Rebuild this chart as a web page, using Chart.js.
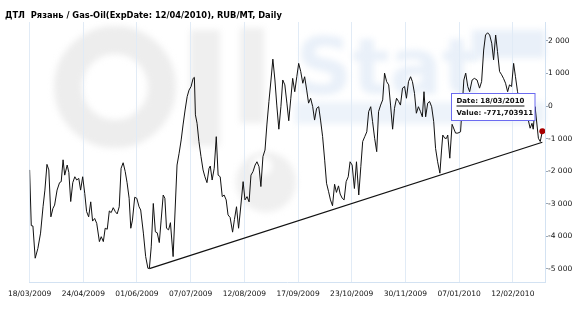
<!DOCTYPE html>
<html>
<head>
<meta charset="utf-8">
<script src="https://cdn.jsdelivr.net/npm/chart.js@4.4.0/dist/chart.umd.min.js"></script>
<style>
  html, body { margin: 0; padding: 0; background: #fff; }
</style>
</head>
<body>
<canvas id="oil-Chart" width="575" height="325"></canvas>
<script>
// торговые дни от 18/03/2009 и значения спреда (RUB/MT)
const dayIdx = [
  0, 0.8, 1.6, 2.7, 4.0, 5.3, 6.5, 7.4, 8.4, 9.3, 10.3, 11.3, 12.1, 13.3, 14.5, 15.3, 16.2, 17.0, 18.2, 19.0,
  19.9, 20.9, 21.9, 22.8, 23.8, 24.7, 25.7, 26.7, 27.6, 28.6, 29.6, 30.5, 31.5, 32.5, 33.8, 34.7, 35.7, 36.6, 37.6, 38.6,
  39.5, 40.5, 41.5, 42.4, 43.4, 44.3, 45.3, 46.3, 47.2, 48.2, 49.0, 49.8, 50.9, 51.9, 53.0, 53.8, 55.1, 56.2, 57.3, 58.0,
  58.9, 59.9, 60.9, 61.8, 62.8, 63.7, 64.7, 65.5, 66.3, 67.3, 68.2, 69.5, 71.4, 72.4, 73.4, 74.3, 75.3, 76.3, 77.2, 78.2,
  79.2, 79.8, 80.3, 81.1, 82.0, 83.0, 84.0, 84.9, 85.9, 86.9, 87.5, 88.4, 89.4, 90.4, 91.3, 92.3, 93.3, 94.2, 95.2, 96.1,
  97.1, 98.3, 99.2, 100.2, 101.2, 102.1, 103.4, 104.3, 105.3, 106.3, 107.2, 108.2, 109.2, 110.1, 111.1, 112.0, 113.0, 114.0, 114.9, 115.9,
  116.9, 117.8, 118.8, 119.7, 120.7, 121.7, 122.6, 123.6, 124.6, 125.5, 126.5, 127.4, 128.4, 129.4, 130.3, 131.3, 132.3, 133.2, 134.2, 135.1,
  136.1, 137.1, 138.0, 139.0, 140.0, 140.9, 141.9, 142.9, 143.8, 144.8, 145.7, 146.7, 147.7, 148.6, 149.6, 150.4, 151.4, 152.3, 153.3, 154.3,
  155.2, 156.2, 157.3, 158.3, 159.4, 160.4, 161.3, 162.3, 163.3, 164.2, 165.2, 166.1, 167.1, 168.1, 169.0, 170.0, 171.0, 171.9, 172.9, 173.9,
  174.8, 175.8, 176.7, 177.7, 178.7, 179.6, 180.6, 181.6, 182.5, 183.5, 184.5, 185.4, 186.4, 187.3, 188.3, 189.3, 190.2, 191.0, 191.8, 192.8,
  193.7, 194.7, 195.7, 196.6, 197.6, 198.7, 199.5, 200.1, 201.1, 201.9, 202.5, 203.5, 204.6, 206.3, 207.4, 208.7, 210.3, 211.2, 212.2, 213.1,
  214.3, 215.4, 216.7, 217.9, 218.9, 219.9, 220.8, 221.8, 222.8, 223.8, 224.7, 225.7, 226.6, 227.6, 228.6, 229.5, 230.5, 231.5, 232.4, 233.4,
  234.4, 235.3, 236.3, 238.1, 240.0, 241.4, 242.4, 243.3, 243.9, 244.8, 246.4, 247.3, 248.3
];
const values = [
  -1960, -3670, -3680, -4670, -4370, -3900, -3090, -2580, -1790, -1960, -3400, -3140, -3040, -2580, -2350, -2320, -1650, -2120, -1810, -2040,
  -2930, -2350, -2170, -2270, -2220, -2580, -2170, -2680, -3240, -3400, -2940, -3530, -3450, -3600, -4160, -4010, -4160, -3750, -3780, -3220,
  -3270, -3120, -3240, -3310, -3090, -1910, -1740, -2010, -2350, -2830, -3750, -3500, -2800, -2830, -3090, -3190, -3900, -4620, -4980, -4980,
  -4320, -2990, -3860, -3890, -4190, -3500, -2730, -2830, -3750, -3800, -3580, -4620, -1810, -1450, -1040, -580, -120, 290, 490, 600,
  850, 880, -270, -530, -1090, -1550, -1960, -2170, -2350, -1910, -1840, -2270, -1910, -940, -2120, -2170, -2780, -2730, -2880, -3340,
  -3420, -3870, -3480, -3090, -3750, -3190, -2320, -2880, -2780, -2940, -2120, -2010, -1810, -1710, -1860, -2470, -1550, -1350, -580, 140,
  800, 1440, 800, 30, -710, -20, 800, 650, 90, -450, 240, 850, 440, 900, 1310, 1060, 700, 900, 490, 90,
  240, -20, -430, -70, -20, -430, -940, -1660, -2370, -2630, -2880, -3060, -2400, -2650, -2450, -2700, -2830, -2880, -2320, -2170,
  -1710, -1810, -2530, -1710, -2730, -1860, -1090, -940, -790, -170, -20, -480, -990, -1400, -170, 30, 190, 1010, 750, 650,
  30, -710, -70, 240, 140, 30, 550, 600, 240, 750, 900, 750, 390, -220, -20, -170, -330, 440, -330, 90,
  140, -20, -480, -1300, -1710, -2060, -1350, -890, -990, -990, -890, -1600, -560, -830, -830, -790, 800, 1010, 600, 440,
  800, 850, 800, 550, 750, 1720, 2180, 2250, 2180, 1930, 1420, 2180, 1670, 1060, 960, 850, 700, 440, 650, 600,
  1310, 900, 440, -100, 150, -400, -680, -530, -710, -20, -990, -1090, -771.703911
];
// подписи оси X
const dateLabels = ["18/03/2009", "24/04/2009", "01/06/2009", "07/07/2009", "12/08/2009",
  "17/09/2009", "23/10/2009", "30/11/2009", "07/01/2010", "12/02/2010"];
const labelIdx = [0, 26, 52, 78, 104, 130, 156, 182, 208, 234];
const yTicks = [-5000, -4000, -3000, -2000, -1000, 0, 1000, 2000];
// линия тренда
const trendIdx = [58.0, 248.3];
const trendValues = [-4990, -1110];
const lastDate = "18/03/2010";

const titleText = "ДТЛ  Рязань / Gas-Oil(ExpDate: 12/04/2010), RUB/MT, Daily";

function fmtThousands(v) {
  const s = Math.abs(v).toString().replace(/\B(?=(\d{3})+(?!\d))/g, " ");
  return (v < 0 ? "-" : "") + s;
}

// фон-логотип OilStat (размытый)
const watermarkPlugin = {
  id: "watermark",
  beforeDraw(chart) {
    const { ctx } = chart;
    ctx.save();
    ctx.fillStyle = "#fff";
    ctx.fillRect(0, 0, chart.width, chart.height);
    ctx.filter = "blur(3px)";
    ctx.strokeStyle = "#ededed";
    ctx.lineWidth = 28;
    ctx.beginPath();
    ctx.arc(115, 87, 47, 0, Math.PI * 2);
    ctx.stroke();
    ctx.fillStyle = "#efefef";
    ctx.fillRect(190, 30, 30, 116);
    ctx.fillRect(240, 28, 24, 95);
    ctx.beginPath();
    ctx.arc(266, 182, 30, 0, Math.PI * 2);
    ctx.fill();
    ctx.fillStyle = "#fff";
    ctx.beginPath();
    ctx.arc(262, 166, 10, 0, Math.PI * 2);
    ctx.fill();
    ctx.fillStyle = "#e9f0f9";
    ctx.font = 'bold 78px "DejaVu Sans"';
    ctx.textBaseline = "alphabetic";
    ctx.fillText("Stat", 296, 94);
    ctx.fillRect(472, 30, 73, 28);
    ctx.fillStyle = "#edf3fa";
    ctx.fillRect(295, 102, 250, 22);
    ctx.restore();
  },
};

// заголовок и подсказка по последней точке
const overlayPlugin = {
  id: "overlay",
  afterDraw(chart) {
    const { ctx } = chart;
    ctx.save();
    ctx.fillStyle = "#000";
    ctx.font = 'bold 8.3px "DejaVu Sans"';
    ctx.textBaseline = "middle";
    ctx.textAlign = "left";
    ctx.fillText(titleText, 5, 16);

    // подсказка
    const bx = 451.5, by = 93.5, bw = 83.5, bh = 27;
    ctx.fillStyle = "#fff";
    ctx.fillRect(bx, by, bw, bh);
    ctx.strokeStyle = "#6b6bf0";
    ctx.lineWidth = 1;
    ctx.strokeRect(bx, by, bw, bh);
    ctx.fillStyle = "#111";
    ctx.font = 'bold 7px "DejaVu Sans"';
    const dateStr = "Date: " + lastDate;
    ctx.fillText(dateStr, bx + 5, by + 8);
    const w = ctx.measureText(dateStr).width;
    ctx.fillRect(bx + 5, by + 12, w, 1);
    const lastVal = values[values.length - 1];
    ctx.fillText("Value: " + String(lastVal).replace(".", ","), bx + 5, by + 19.5);
    ctx.restore();
  },
};

const points = dayIdx.map((d, i) => ({ x: d, y: values[i] }));
const trend = trendIdx.map((d, i) => ({ x: d, y: trendValues[i] }));
const lastPoint = [points[points.length - 1]];

new Chart(document.getElementById("oil-Chart"), {
  type: "line",
  data: {
    datasets: [
      {
        data: lastPoint,
        showLine: false,
        pointRadius: 3,
        pointBackgroundColor: "#a80000",
        pointBorderWidth: 0,
      },
      {
        data: points,
        borderColor: "#111",
        borderWidth: 1,
        pointRadius: 0,
        tension: 0,
      },
      {
        data: trend,
        borderColor: "#111",
        borderWidth: 1.2,
        pointRadius: 0,
      },
    ],
  },
  options: {
    responsive: false,
    animation: false,
    events: [],
    layout: { padding: { left: 26.6, top: 22, right: 0, bottom: 0 } },
    plugins: { legend: { display: false }, tooltip: { enabled: false } },
    scales: {
      x: {
        type: "linear",
        min: 0,
        max: 249.6,
        afterBuildTicks(scale) {
          scale.ticks = labelIdx.map((v) => ({ value: v }));
        },
        afterFit(scale) {
          scale.height = 43;
        },
        grid: { color: "#e1ebf6", drawTicks: false },
        border: { color: "#d3e2f2" },
        ticks: {
          autoSkip: false,
          maxRotation: 0,
          padding: 8,
          color: "#111",
          font: { family: "DejaVu Sans", size: 7.5 },
          callback: (v) => dateLabels[labelIdx.indexOf(v)],
        },
      },
      y: {
        position: "right",
        min: -5400,
        max: 2580,
        afterBuildTicks(scale) {
          scale.ticks = yTicks.map((v) => ({ value: v }));
        },
        afterFit(scale) {
          scale.width = 30;
        },
        grid: { drawOnChartArea: false, drawTicks: true, tickLength: 3, tickColor: "#9aa8b8" },
        border: { color: "#d3e2f2" },
        ticks: {
          padding: 0,
          color: "#111",
          font: { family: "DejaVu Sans", size: 7.5 },
          callback: (v) => fmtThousands(v),
        },
      },
    },
  },
  plugins: [watermarkPlugin, overlayPlugin],
});
</script>
</body>
</html>
